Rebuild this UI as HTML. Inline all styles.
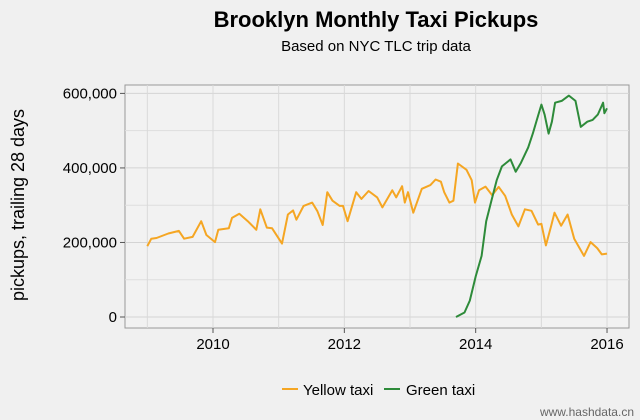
<!DOCTYPE html>
<html><head><meta charset="utf-8"><style>
body{margin:0;background:#f0f0f0;}
svg{display:block;font-family:"Liberation Sans",sans-serif;}
</style></head><body>
<svg width="640" height="420" viewBox="0 0 640 420">
<rect width="640" height="420" fill="#f0f0f0"/>
<text x="376" y="27" text-anchor="middle" font-size="22" font-weight="bold" fill="#000">Brooklyn Monthly Taxi Pickups</text>
<text x="376" y="51" text-anchor="middle" font-size="15" fill="#000">Based on NYC TLC trip data</text>
<text transform="translate(24,205) rotate(-90)" text-anchor="middle" font-size="18" fill="#000">pickups, trailing 28 days</text>
<rect x="125" y="85" width="504" height="243" fill="#f2f2f2" stroke="#999" stroke-width="1"/>
<g id="grid"></g>
<g id="axes"></g>
<g id="series"></g>
<g>
<line x1="282" y1="389" x2="298" y2="389" stroke="#f5a623" stroke-width="2"/>
<text x="303" y="395" font-size="15" fill="#000">Yellow taxi</text>
<line x1="384" y1="389" x2="400" y2="389" stroke="#2e8b3a" stroke-width="2"/>
<text x="406" y="395" font-size="15" fill="#000">Green taxi</text>
</g>
<text x="634" y="416" text-anchor="end" font-size="12" fill="#666">www.hashdata.cn</text>
</svg>
<script>
const yTicks=[0,200000,400000,600000];
const yTickLabels=["0","200,000","400,000","600,000"];
const xTicks=[2010,2012,2014,2016];
const xTickLabels=["2010","2012","2014","2016"];
const yellowTime=[2009.0,2009.06,2009.14,2009.32,2009.48,2009.56,2009.69,2009.82,2009.9,2010.03,2010.08,2010.24,2010.29,2010.4,2010.53,2010.66,2010.72,2010.82,2010.9,2011.05,2011.14,2011.22,2011.27,2011.38,2011.51,2011.59,2011.67,2011.74,2011.82,2011.93,2011.98,2012.05,2012.18,2012.26,2012.37,2012.5,2012.58,2012.73,2012.79,2012.88,2012.92,2012.97,2013.05,2013.18,2013.31,2013.39,2013.47,2013.52,2013.6,2013.66,2013.73,2013.86,2013.94,2013.99,2014.05,2014.15,2014.25,2014.35,2014.45,2014.55,2014.65,2014.75,2014.85,2014.95,2015.0,2015.07,2015.15,2015.2,2015.3,2015.4,2015.5,2015.65,2015.75,2015.85,2015.92,2016.0];
const yellowValues=[190,210,212,224,231,210,215,257,220,201,234,238,266,277,257,234,289,240,238,197,275,286,261,298,307,284,247,335,312,298,298,257,335,317,338,321,294,340,321,351,307,335,280,344,354,369,363,335,307,312,412,395,367,307,340,350,327,349,325,275,243,289,285,248,250,192,245,280,245,275,210,164,201,185,168,170].map(v=>v*1000);
const greenTime=[2013.7,2013.83,2013.91,2014.0,2014.09,2014.16,2014.24,2014.32,2014.4,2014.53,2014.61,2014.69,2014.8,2014.87,2014.94,2015.0,2015.05,2015.11,2015.16,2015.21,2015.31,2015.42,2015.52,2015.6,2015.7,2015.78,2015.86,2015.94,2015.96,2016.0];
const greenValues=[0,12,44,109,164,257,312,367,404,423,390,414,455,492,534,570,543,492,524,575,580,594,580,510,524,529,543,575,547,560].map(v=>v*1000);

const ns="http://www.w3.org/2000/svg";
const X=t=>213+(t-2010)*65.67;
const Y=v=>317-v/600000*223.6;
function mk(tag,attrs,parent){const e=document.createElementNS(ns,tag);for(const k in attrs)e.setAttribute(k,attrs[k]);parent.appendChild(e);return e;}
const grid=document.getElementById('grid'),axes=document.getElementById('axes'),series=document.getElementById('series');
for(let v=0;v<=600000;v+=100000){
 const l=mk('line',{x1:125,x2:629,y1:Y(v),y2:Y(v),stroke:v%200000===0?'#d4d4d4':'#dedede','stroke-width':1},grid);
 
 }
for(let t=2009;t<=2016;t++){
 const l=mk('line',{x1:X(t),x2:X(t),y1:85,y2:328,stroke:'#d9d9d9','stroke-width':1},grid);
 
 }
yTicks.forEach((v,i)=>{
 const tk=mk('line',{x1:120,x2:125,y1:Y(v),y2:Y(v),stroke:'#555'},axes);
 
 
 const tx=mk('text',{x:117,y:Y(v)+5,'text-anchor':'end','font-size':15,fill:'#000'},axes);
 tx.textContent=yTickLabels[i];
 
 });
xTicks.forEach((t,i)=>{
 const tk=mk('line',{x1:X(t),x2:X(t),y1:328,y2:333,stroke:'#555'},axes);
 
 
 const tx=mk('text',{x:X(t),y:349,'text-anchor':'middle','font-size':15,fill:'#000'},axes);
 tx.textContent=xTickLabels[i];
 
 });
function line(ts,vs,color,name){
 const d=ts.map((t,i)=>(i?'L':'M')+X(t).toFixed(1)+','+Y(vs[i]).toFixed(1)).join('');
 const p=mk('path',{d:d,fill:'none',stroke:color,'stroke-width':2,'stroke-linejoin':'round'},series);
 
 }
line(yellowTime,yellowValues,'#f5a623','yellow-taxi-line');
line(greenTime,greenValues,'#2e8b3a','green-taxi-line');
</script>
</body></html>
